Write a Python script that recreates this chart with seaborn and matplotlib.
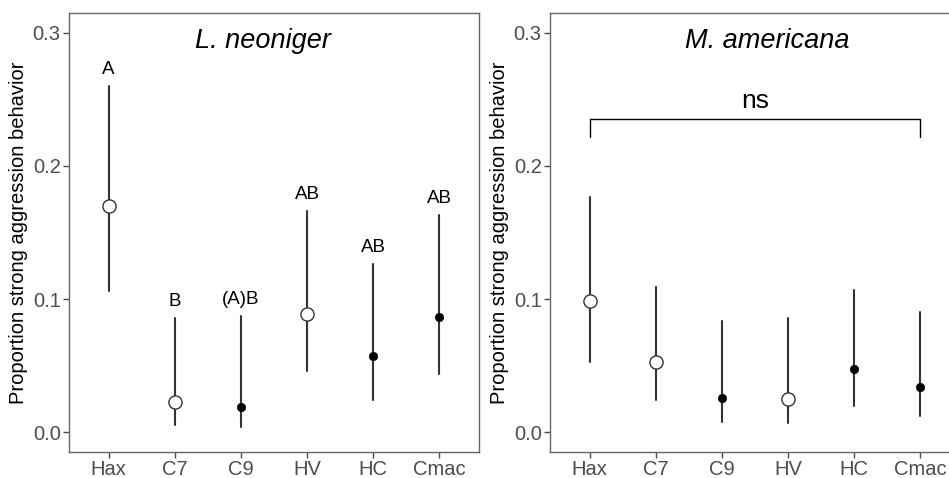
import numpy as np
import pandas as pd
import matplotlib
matplotlib.use("Agg")
import matplotlib.pyplot as plt
import seaborn as sns

sns.set_theme(style="white")
plt.rcParams['font.family'] = ['Liberation Sans', 'DejaVu Sans']

categories = ["Hax", "C7", "C9", "HV", "HC", "Cmac"]

# L. neoniger
ln_est = [0.170, 0.0226, 0.0185, 0.0887, 0.0568, 0.0862]
ln_low = [0.106, 0.0055, 0.0035, 0.0456, 0.0243, 0.0438]
ln_up = [0.260, 0.0857, 0.0874, 0.166, 0.126, 0.163]
ln_open = [True, True, False, True, False, False]
ln_letters = ["A", "B", "(A)B", "AB", "AB", "AB"]

# M. americana
ma_est = [0.0985, 0.0523, 0.0253, 0.0248, 0.0471, 0.0338]
ma_low = [0.0526, 0.0243, 0.0072, 0.0068, 0.0198, 0.0123]
ma_up = [0.177, 0.109, 0.0837, 0.0857, 0.107, 0.0902]
ma_open = [True, True, False, True, False, False]

yticks = [0.0, 0.1, 0.2, 0.3]
ylabel = "Proportion strong aggression behavior"

W, H = 949, 478
fig = plt.figure(figsize=(W / 100, H / 100), dpi=100)
axL = fig.add_axes([69 / W, (H - 452) / H, 410 / W, 439 / H])
axR = fig.add_axes([550 / W, (H - 452) / H, 410 / W, 439 / H])

LINEC = "#333333"


def long_df(est, low, up, is_open):
    rows = []
    for c, e, l, u, o in zip(categories, est, low, up, is_open):
        for v in (l, e, u):
            rows.append({"cat": c, "val": v, "open": o})
    return pd.DataFrame(rows)


def draw(ax, est, low, up, is_open):
    df = long_df(est, low, up, is_open)
    common = dict(x="cat", y="val", order=categories, estimator=np.median,
                  errorbar=("pi", 100), color=LINEC, linestyle="none", ax=ax,
                  err_kws={"linestyle": "-", "linewidth": 1.5, "color": LINEC, "zorder": 2})
    sns.pointplot(data=df[~df["open"]], marker="o", markersize=6,
                  markerfacecolor="black", markeredgecolor="black",
                  markeredgewidth=0.5, zorder=3, **common)
    sns.pointplot(data=df[df["open"]], marker="o", markersize=9.5,
                  markerfacecolor="white", markeredgecolor=LINEC,
                  markeredgewidth=1.0, zorder=3, **common)
    ax.set_xlim(-0.6, 5.6)
    ax.set_ylim(-0.015, 0.315)
    ax.set_yticks(yticks)
    ax.set_yticklabels([f"{t:.1f}" for t in yticks])
    ax.set_xlabel("")
    ax.set_ylabel(ylabel, fontsize=14.5, color="black", labelpad=3)
    ax.tick_params(axis="both", labelsize=14.5, labelcolor="#4D4D4D", color="#4D4D4D",
                   length=4, width=1, left=True, bottom=True, pad=2)
    for s in ax.spines.values():
        s.set_color("#666666")
        s.set_linewidth(1.0)
    ax.grid(False)


draw(axL, ln_est, ln_low, ln_up, ln_open)
draw(axR, ma_est, ma_low, ma_up, ma_open)

for i, (u, lab) in enumerate(zip(ln_up, ln_letters)):
    axL.text(i, u + 0.0125, lab, ha="center", va="center", fontsize=13.5, color="black")

axL.text(2.33, 0.294, "L. neoniger", ha="center", va="center", fontsize=19.5,
         style="italic", color="black")
axR.text(2.69, 0.294, "M. americana", ha="center", va="center", fontsize=19.5,
         style="italic", color="black")

# ns bracket
axR.plot([0, 0, 5, 5], [0.222, 0.2355, 0.2355, 0.222], color="black", linewidth=1.0)
axR.text(2.5, 0.249, "ns", ha="center", va="center", fontsize=19, color="black")

fig.savefig("out.png", dpi=100)
